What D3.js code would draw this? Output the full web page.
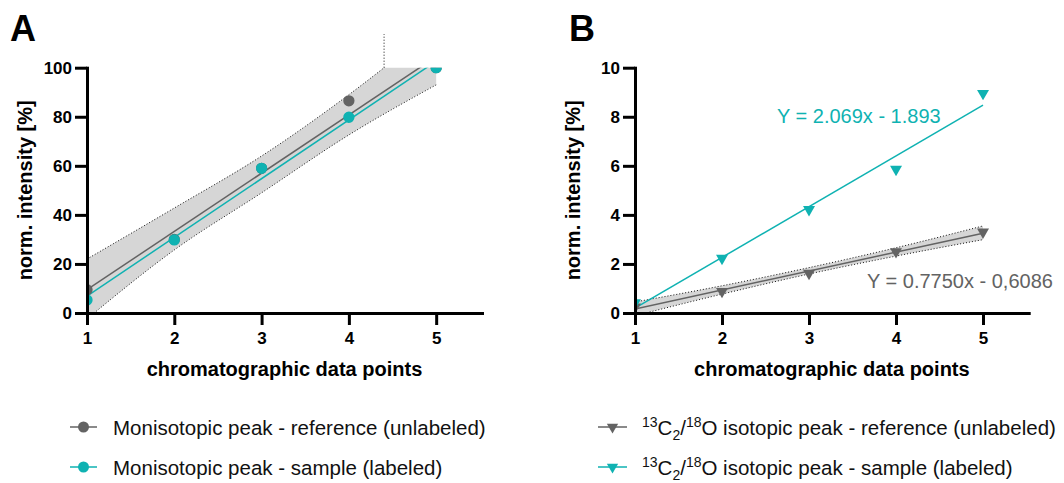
<!DOCTYPE html>
<html>
<head>
<meta charset="utf-8">
<script src="https://cdn.jsdelivr.net/npm/d3@7"></script>
<style>
  body { margin: 0; background: #fff; }
  svg { font-family: "Liberation Sans", Arial, sans-serif; }
</style>
</head>
<body>
<svg id="chart" width="1064" height="483"></svg>
<script>
// data
const points = [1, 2, 3, 4, 5];
const refA = [9.5, 30, 59, 86.5, 100];
const sampleA = [5.3, 29.8, 59, 79.8, 100];
const bandUpperA = [22, 42.8, 64, 89, 117];
const bandLowerA = [-2.4, 25.7, 49, 72.6, 93];
const refB = [0.25, 0.88, 1.62, 2.5, 3.3];
const sampleB = [0.42, 2.23, 4.22, 5.86, 8.95];
const bandUpperB = [0.45, 1.11, 1.85, 2.66, 3.55];
const bandLowerB = [-0.11, 0.77, 1.59, 2.32, 2.99];
const ticksA = [0, 20, 40, 60, 80, 100];
const ticksB = [0, 2, 4, 6, 8, 10];
const eqSample = "Y = 2.069x - 1.893";
const eqRef = "Y = 0.7750x - 0,6086";

const grey = "#636363",
  teal = "#0fb2b2",
  bandFill = "#d6d6d6";

const svg = d3.select("#chart");

function fit(ys) {
  const mx = d3.mean(points),
    my = d3.mean(ys);
  let sxy = 0,
    sxx = 0;
  points.forEach((x, i) => {
    sxy += (x - mx) * (ys[i] - my);
    sxx += (x - mx) * (x - mx);
  });
  const b = sxy / sxx;
  return (x) => my + b * (x - mx);
}

function panel(opt) {
  const g = svg.append("g");
  const x = d3.scaleLinear().domain([1, 5.525]).range(opt.xr);
  const y = d3.scaleLinear().domain([0, opt.ymax]).range([313, 67.7]);
  const id = "clip" + opt.key;

  g.append("clipPath")
    .attr("id", id)
    .append("rect")
    .attr("x", x(1))
    .attr("y", y(opt.ymax))
    .attr("width", x(5.525) - x(1))
    .attr("height", y(0) - y(opt.ymax));

  const plot = g.append("g").attr("clip-path", `url(#${id})`);

  // confidence band
  const area = d3
    .area()
    .x((d, i) => x(points[i]))
    .y0((d, i) => y(opt.lower[i]))
    .y1((d) => y(d))
    .curve(d3.curveMonotoneX);
  plot.append("path").attr("d", area(opt.upper)).style("fill", bandFill);
  const edge = d3
    .line()
    .x((d, i) => x(points[i]))
    .y((d) => y(d))
    .curve(d3.curveMonotoneX);
  [opt.upper, opt.lower].forEach((arr) => {
    plot
      .append("path")
      .attr("d", edge(arr))
      .style("fill", "none")
      .style("stroke", "#111")
      .style("stroke-width", 1)
      .style("stroke-dasharray", "1,2");
  });

  if (opt.stub) {
    // the upper band edge escaping above the frame
    const tmp = g.append("path").attr("d", edge(opt.upper)).style("fill", "none");
    const node = tmp.node(),
      len = node.getTotalLength(),
      top = y(opt.ymax);
    let lo = 0,
      hi = len;
    for (let k = 0; k < 40; k++) {
      const mid = (lo + hi) / 2;
      if (node.getPointAtLength(mid).y > top) lo = mid;
      else hi = mid;
    }
    const px = node.getPointAtLength(lo).x;
    tmp.remove();
    g.append("line")
      .attr("x1", px)
      .attr("x2", px)
      .attr("y1", top)
      .attr("y2", 34)
      .style("stroke", "#111")
      .style("stroke-dasharray", "1,2");
  }

  // regression lines
  opt.series.forEach((s) => {
    const f = fit(s.values);
    plot
      .append("line")
      .attr("x1", x(1))
      .attr("y1", y(f(1)))
      .attr("x2", x(5))
      .attr("y2", y(f(5)))
      .style("stroke", s.color)
      .style("stroke-width", 1.5);
  });

  // markers
  opt.series.forEach((s) => {
    const sel = plot
      .append("g")
      .selectAll("path")
      .data(s.values)
      .join("path")
      .style("fill", s.color);
    if (opt.triangle) {
      sel
        .attr("d", d3.symbol(d3.symbolTriangle, 62)())
        .attr("transform", (d, i) => `translate(${x(points[i])},${y(d)}) rotate(180)`);
    } else {
      sel
        .attr("d", d3.symbol(d3.symbolCircle, 100)())
        .attr("transform", (d, i) => `translate(${x(points[i])},${y(d)})`);
    }
  });

  // axes
  const xAxis = g
    .append("g")
    .attr("transform", `translate(0,${y(0)})`)
    .call(d3.axisBottom(x).tickValues(points).tickFormat(d3.format("d")).tickSize(12).tickSizeOuter(0).tickPadding(7));
  const yAxis = g
    .append("g")
    .attr("transform", `translate(${x(1)},0)`)
    .call(d3.axisLeft(y).tickValues(opt.ticks).tickSize(12).tickSizeOuter(0).tickPadding(3));
  [xAxis, yAxis].forEach((a) => {
    a.select(".domain").style("stroke", "#000").style("stroke-width", 3).style("stroke-linecap", "square");
    a.selectAll(".tick line").style("stroke", "#000").style("stroke-width", 3);
    a.selectAll(".tick text").style("font-size", "17px").style("font-weight", "bold").style("fill", "#000")
      .style("font-family", '"Liberation Sans", Arial, sans-serif');
  });

  g.append("text")
    .attr("x", (x(1) + x(5.525)) / 2)
    .attr("y", 376)
    .attr("text-anchor", "middle")
    .style("font-size", "20px")
    .style("font-weight", "bold")
    .text("chromatographic data points");
  g.append("text")
    .attr("transform", `translate(${x(1) - 55},${(y(0) + y(opt.ymax)) / 2}) rotate(-90)`)
    .attr("text-anchor", "middle")
    .style("font-size", "20px")
    .style("font-weight", "bold")
    .text("norm. intensity [%]");

  g.append("text")
    .attr("x", opt.letterX)
    .attr("y", 41)
    .style("font-size", "36px")
    .style("font-weight", "bold")
    .text(opt.key);

  return { g, x, y };
}

const A = panel({
  key: "A",
  xr: [87, 482],
  ymax: 100,
  ticks: ticksA,
  upper: bandUpperA,
  lower: bandLowerA,
  stub: true,
  letterX: 10,
  series: [
    { values: refA, color: grey },
    { values: sampleA, color: teal },
  ],
});

const B = panel({
  key: "B",
  xr: [635, 1028.7],
  ymax: 10,
  ticks: ticksB,
  upper: bandUpperB,
  lower: bandLowerB,
  triangle: true,
  letterX: 569,
  series: [
    { values: refB, color: grey },
    { values: sampleB, color: teal },
  ],
});

B.g.append("text").attr("x", 777).attr("y", 123).style("font-size", "20px").style("fill", teal).text(eqSample);
B.g.append("text").attr("x", 867).attr("y", 288).style("font-size", "20px").style("fill", grey).text(eqRef);

// legends
const legA = [
  { label: "Monisotopic peak - reference (unlabeled)", color: grey },
  { label: "Monisotopic peak - sample (labeled)", color: teal },
];
const legB = [
  { label: " isotopic peak - reference (unlabeled)", color: grey },
  { label: " isotopic peak - sample (labeled)", color: teal },
];
const rowY = [427, 467];

legA.forEach((d, i) => {
  const r = svg.append("g").attr("transform", `translate(0,${rowY[i]})`);
  r.append("line").attr("x1", 70).attr("x2", 97).style("stroke", d.color).style("stroke-width", 1.5);
  r.append("circle").attr("cx", 83.5).attr("r", 5.5).style("fill", d.color);
  r.append("text").attr("x", 113).attr("y", 7.5).style("font-size", "20.5px").style("fill", "#111").text(d.label);
});

legB.forEach((d, i) => {
  const r = svg.append("g").attr("transform", `translate(0,${rowY[i]})`);
  r.append("line").attr("x1", 598).attr("x2", 627).style("stroke", d.color).style("stroke-width", 1.5);
  r.append("path")
    .attr("d", d3.symbol(d3.symbolTriangle, 55)())
    .attr("transform", "translate(612.5,0) rotate(180)")
    .style("fill", d.color);
  const t = r.append("text").attr("x", 642).attr("y", 7.5).style("font-size", "20.5px").style("fill", "#111");
  t.append("tspan").attr("dy", -8).style("font-size", "14px").text("13");
  t.append("tspan").attr("dy", 8).text("C");
  t.append("tspan").attr("dy", 5).style("font-size", "14px").text("2");
  t.append("tspan").attr("dy", -5).text("/");
  t.append("tspan").attr("dy", -8).style("font-size", "14px").text("18");
  t.append("tspan").attr("dy", 8).text("O" + d.label);
});
</script>
</body>
</html>
